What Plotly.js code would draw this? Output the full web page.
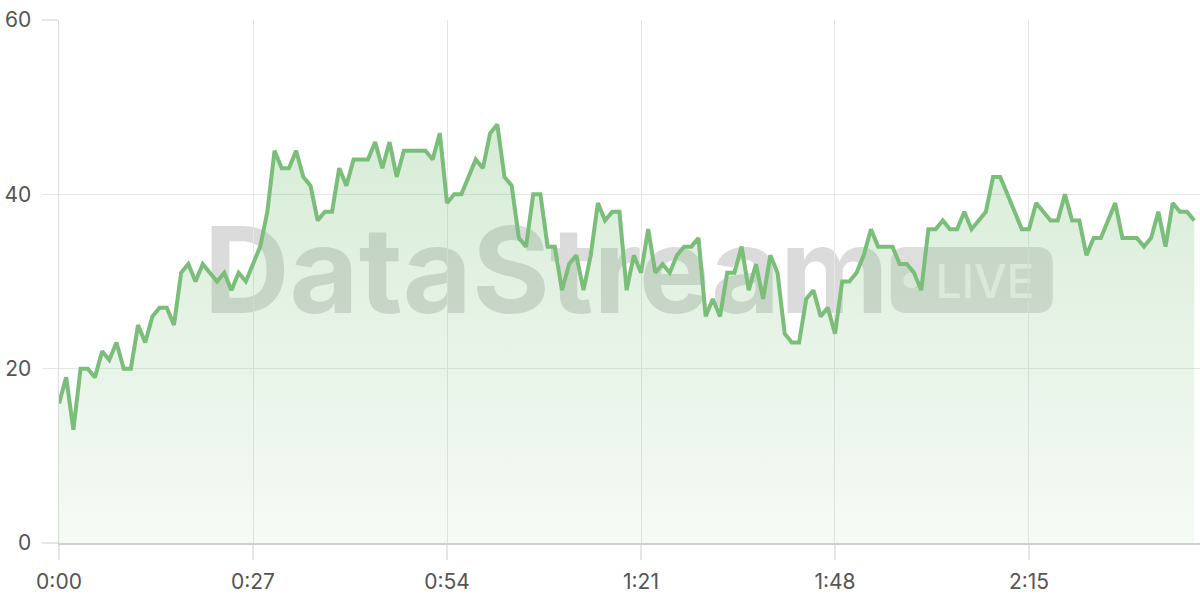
<!DOCTYPE html>
<html>
<head>
<meta charset="utf-8">
<script src="https://cdn.plot.ly/plotly-3.0.1.min.js"></script>
<style>
  html, body { margin: 0; padding: 0; background: #fff; }
  #chart { width: 1200px; height: 600px; }
</style>
</head>
<body>
<div id="chart"></div>
<script>
// one sample per second
const rate = [
  16, 19, 13, 20, 20, 19, 22, 21, 23, 20, 20, 25, 23, 26, 27, 27, 25, 31, 32, 30,
  32, 31, 30, 31, 29, 31, 30, 32, 34, 38, 45, 43, 43, 45, 42, 41, 37, 38, 38, 43,
  41, 44, 44, 44, 46, 43, 46, 42, 45, 45, 45, 45, 44, 47, 39, 40, 40, 42, 44, 43,
  47, 48, 42, 41, 35, 34, 40, 40, 34, 34, 29, 32, 33, 29, 33, 39, 37, 38, 38, 29,
  33, 31, 36, 31, 32, 31, 33, 34, 34, 35, 26, 28, 26, 31, 31, 34, 29, 32, 28, 33,
  31, 24, 23, 23, 28, 29, 26, 27, 24, 30, 30, 31, 33, 36, 34, 34, 34, 32, 32, 31,
  29, 36, 36, 37, 36, 36, 38, 36, 37, 38, 42, 42, 40, 38, 36, 36, 39, 38, 37, 37,
  40, 37, 37, 33, 35, 35, 37, 39, 35, 35, 35, 34, 35, 38, 34, 39, 38, 38, 37
];
const seconds = rate.map((_, i) => i);

const timeTicks = [0, 27, 54, 81, 108, 135];
const timeLabels = ["0:00", "0:27", "0:54", "1:21", "1:48", "2:15"];
const valueTicks = [0, 20, 40, 60];

const GREEN = "rgb(122,190,122)";
const GRID = "#e6e6e6";
const TEXT = "#555555";

const trace = {
  type: "scatter",
  mode: "lines",
  x: seconds,
  y: rate,
  line: { color: GREEN, width: 4, shape: "linear" },
  fill: "tozeroy",
  fillgradient: {
    type: "vertical",
    start: 0,
    stop: 48,
    colorscale: [
      [0, "rgba(122,190,122,0.07)"],
      [1, "rgba(122,190,122,0.30)"],
    ],
  },
  hoverinfo: "skip",
};

// rounded pill for the LIVE badge, paper coords
function pillPath(x0, x1, y0, y1, rx, ry) {
  return `M ${x0 + rx},${y0} L ${x1 - rx},${y0} Q ${x1},${y0} ${x1},${y0 + ry} ` +
    `L ${x1},${y1 - ry} Q ${x1},${y1} ${x1 - rx},${y1} L ${x0 + rx},${y1} ` +
    `Q ${x0},${y1} ${x0},${y1 - ry} L ${x0},${y0 + ry} Q ${x0},${y0} ${x0 + rx},${y0} Z`;
}

const shapes = [
  {
    type: "rect", xref: "paper", yref: "paper", layer: "below",
    x0: 0.097, x1: 0.757, y0: 0.41, y1: 0.65,
    line: { width: 0 }, fillcolor: "rgba(0,0,0,0)",
    label: {
      text: "DataStream",
      textposition: "middle center",
      font: { family: "Inter, 'Open Sans', sans-serif", size: 119, weight: 700, color: "rgba(0,0,0,0.14)" },
    },
  },
  {
    type: "path", xref: "paper", yref: "paper", layer: "below",
    path: pillPath(0.729, 0.871, 0.440, 0.566, 0.014, 0.030),
    line: { width: 0 }, fillcolor: "rgba(0,0,0,0.13)",
  },
  {
    type: "circle", xref: "paper", yref: "paper", layer: "below",
    x0: 0.740, x1: 0.754, y0: 0.487, y1: 0.517,
    line: { width: 0 }, fillcolor: "rgba(255,255,255,0.6)",
  },
  {
    type: "rect", xref: "paper", yref: "paper", layer: "below",
    x0: 0.758, x1: 0.865, y0: 0.44, y1: 0.566,
    line: { width: 0 }, fillcolor: "rgba(0,0,0,0)",
    label: {
      text: "LIVE",
      textposition: "middle center",
      font: { family: "Inter, 'Open Sans', sans-serif", size: 46, weight: 500, color: "rgba(255,255,255,0.7)" },
    },
  },
];

const layout = {
  width: 1200,
  height: 600,
  margin: { l: 59, r: 0, t: 20, b: 57 },
  paper_bgcolor: "#ffffff",
  plot_bgcolor: "#ffffff",
  showlegend: false,
  font: { family: "Inter, 'Open Sans', sans-serif", size: 21, color: TEXT },
  xaxis: {
    range: [0, 158.8],
    tickmode: "array",
    tickvals: timeTicks,
    ticktext: timeLabels,
    showgrid: true,
    gridcolor: GRID,
    gridwidth: 1,
    zeroline: false,
    showline: true,
    linecolor: "#cfcfcf",
    linewidth: 1.5,
    ticks: "outside",
    ticklen: 15,
    tickcolor: GRID,
    tickwidth: 1.5,
    ticklabelstandoff: 4,
    fixedrange: true,
  },
  yaxis: {
    range: [0, 60],
    tickmode: "array",
    tickvals: valueTicks,
    showgrid: true,
    gridcolor: GRID,
    gridwidth: 1,
    zeroline: false,
    showline: true,
    linecolor: "#dcdcdc",
    linewidth: 1.5,
    ticks: "outside",
    ticklen: 16,
    tickcolor: GRID,
    tickwidth: 1.5,
    ticklabelstandoff: 6,
    fixedrange: true,
  },
  shapes,
};

Plotly.newPlot("chart", [trace], layout, { displayModeBar: false, staticPlot: true });
</script>
</body>
</html>
